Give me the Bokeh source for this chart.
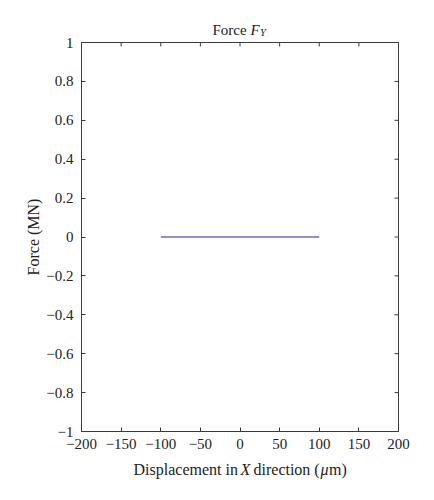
import math
from bokeh.plotting import figure
from bokeh.models import Label, FixedTicker, Range1d, LinearAxis
from bokeh.embed import file_html
from bokeh.resources import INLINE

# ---- data ----
x_disp = [-100, 100]
force_y = [0, 0]

x_ticks = [-200, -150, -100, -50, 0, 50, 100, 150, 200]
x_tick_labels = ["\u2212200", "\u2212150", "\u2212100", "\u221250", "0", "50", "100", "150", "200"]
y_ticks = [-1, -0.8, -0.6, -0.4, -0.2, 0, 0.2, 0.4, 0.6, 0.8, 1]
y_tick_labels = ["\u22121", "\u22120.8", "\u22120.6", "\u22120.4", "\u22120.2", "0",
                 "0.2", "0.4", "0.6", "0.8", "1"]

title_parts = ["Force", "F", "Y"]
xlabel_parts = ["Displacement in", "X", "direction (", "\u03bc", "m)"]
ylabel = "Force (MN)"

FONT = "Liberation Serif"
AX = "#3a3a3a"
TXT = "#222222"

X0, X1 = -200, 200
Y0, Y1 = -1, 1

W, H = 418, 484
BL, BR, BT, BB = 81, 398, 42, 431  # axes box edges in px

ux = (X1 - X0) / (BR - BL)
uy = (Y1 - Y0) / (BB - BT)

p = figure(width=W, height=H,
           x_range=Range1d(X0 - BL * ux, X1 + (W - BR) * ux),
           y_range=Range1d(Y0 - (H - BB) * uy, Y1 + BT * uy),
           output_backend="svg", toolbar_location=None,
           x_axis_location=None, y_axis_location=None,
           min_border=0)
p.grid.visible = False
p.outline_line_color = None
p.background_fill_color = "white"
p.border_fill_color = "white"

p.line(x_disp, force_y, line_color="#6c6cb8", line_width=1.6)


def style(ax, ticks, labels):
    ax.ticker = FixedTicker(ticks=ticks)
    ax.major_label_overrides = {t: l for t, l in zip(ticks, labels)}
    ax.major_tick_in = 4
    ax.major_tick_out = 0
    ax.minor_tick_line_color = None
    ax.axis_line_color = AX
    ax.major_tick_line_color = AX
    ax.major_label_text_font = FONT
    ax.major_label_text_color = TXT
    ax.major_label_text_font_size = "15px"


xa = LinearAxis(fixed_location=Y0, bounds=(X0, X1))
style(xa, x_ticks, x_tick_labels)
xa.major_label_standoff = 7
p.add_layout(xa, "below")

ya = LinearAxis(fixed_location=X0, bounds=(Y0, Y1))
style(ya, y_ticks, y_tick_labels)
ya.major_label_standoff = 8
p.add_layout(ya, "left")

# box: top and right edges with inward ticks
p.line([X0, X1, X1], [Y1, Y1, Y0], line_color=AX, line_width=1)
p.ray(x=x_ticks, y=[Y1] * len(x_ticks), length=4, length_units="screen",
      angle=-math.pi / 2, line_color=AX, line_width=1)
p.ray(x=[X1] * len(y_ticks), y=y_ticks, length=4, length_units="screen",
      angle=math.pi, line_color=AX, line_width=1)


def lab(text, px, py, size, italic=False, angle=0.0, align="left"):
    p.add_layout(Label(x=X0 + (px - BL) * ux, y=Y1 - (py - BT) * uy, text=text,
                       text_font=FONT, text_font_size=size, text_color=TXT,
                       text_font_style="italic" if italic else "normal",
                       angle=angle, text_align=align, text_baseline="alphabetic"))


# title
lab(title_parts[0], 212, 29, "15px")
lab(title_parts[1], 250, 29, "15px", italic=True)
lab(title_parts[2], 259.5, 32, "10.5px", italic=True)

# x axis label
lab(xlabel_parts[0], 133, 469, "16px")
lab(xlabel_parts[1], 240, 469, "16px", italic=True)
lab(xlabel_parts[2], 253, 469, "16px")
lab(xlabel_parts[3], 320, 469, "16px", italic=True)
lab(xlabel_parts[4], 328.5, 469, "16px")

# y axis label
lab(ylabel, 33, 236.5, "16px", angle=math.pi / 2, align="center")

open("out.html", "w").write(file_html(p, INLINE))
